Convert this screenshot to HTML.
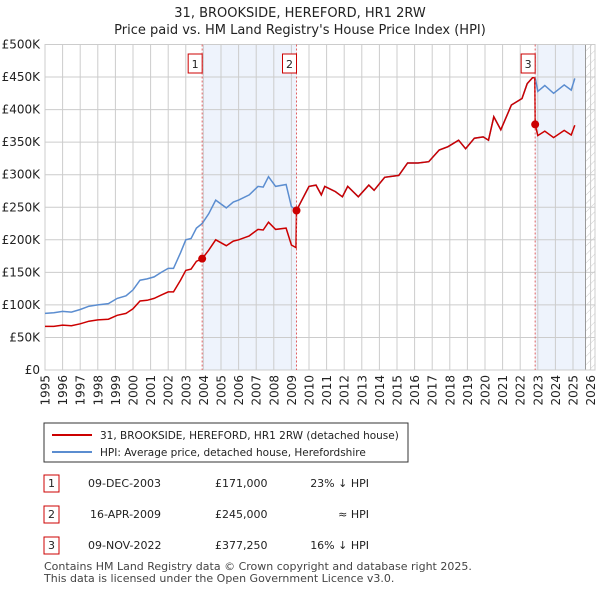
<!DOCTYPE html>
<html><head><meta charset="utf-8"><style>
body{margin:0;background:#fff;font-family:"Liberation Sans","DejaVu Sans",sans-serif;}
svg text{font-family:"DejaVu Sans","Liberation Sans",sans-serif;}
</style></head><body>
<svg id="chart" width="600" height="590" viewBox="0 0 600 590" xmlns="http://www.w3.org/2000/svg">
<defs><pattern id="hatch" width="6" height="6" patternUnits="userSpaceOnUse" patternTransform="rotate(45)"><line x1="0" y1="0" x2="0" y2="6" stroke="#ccc" stroke-width="1"/></pattern></defs>
<text x="300" y="17" font-size="13" text-anchor="middle" fill="#222">31, BROOKSIDE, HEREFORD, HR1 2RW</text>
<text x="300" y="34" font-size="13" text-anchor="middle" fill="#222">Price paid vs. HM Land Registry's House Price Index (HPI)</text>
<g id="bg"></g><g id="grid"></g><g id="series"></g><g id="marks"></g>
<g>
<rect x="44" y="423" width="364" height="39" fill="#fff" stroke="#333"/>
<line x1="52" y1="435" x2="92" y2="435" stroke="#cc0000" stroke-width="2"/>
<text x="100" y="439" font-size="10.5" fill="#222">31, BROOKSIDE, HEREFORD, HR1 2RW (detached house)</text>
<line x1="52" y1="452" x2="92" y2="452" stroke="#5b8dd0" stroke-width="2"/>
<text x="100" y="456" font-size="10.5" fill="#222">HPI: Average price, detached house, Herefordshire</text>
</g>
<g font-size="11" fill="#222">
<rect x="44" y="475" width="15" height="17" fill="#fff" stroke="#cc0000"/><text x="51.5" y="487" text-anchor="middle">1</text>
<text x="88" y="487">09-DEC-2003</text><text x="215" y="487">£171,000</text><text x="369" y="487" text-anchor="end">23% ↓ HPI</text>
<rect x="44" y="506" width="15" height="17" fill="#fff" stroke="#cc0000"/><text x="51.5" y="518" text-anchor="middle">2</text>
<text x="90" y="518">16-APR-2009</text><text x="215" y="518">£245,000</text><text x="369" y="518" text-anchor="end">≈ HPI</text>
<rect x="44" y="537" width="15" height="17" fill="#fff" stroke="#cc0000"/><text x="51.5" y="549" text-anchor="middle">3</text>
<text x="88" y="549">09-NOV-2022</text><text x="215" y="549">£377,250</text><text x="369" y="549" text-anchor="end">16% ↓ HPI</text>
</g>
<text x="44" y="570" font-size="11" fill="#444">Contains HM Land Registry data © Crown copyright and database right 2025.</text>
<text x="44" y="582" font-size="11" fill="#444">This data is licensed under the Open Government Licence v3.0.</text>
</svg>
<script>
const yearTicks=[1995,1996,1997,1998,1999,2000,2001,2002,2003,2004,2005,2006,2007,2008,2009,2010,2011,2012,2013,2014,2015,2016,2017,2018,2019,2020,2021,2022,2023,2024,2025,2026];
const valueTicks=[0,50,100,150,200,250,300,350,400,450,500];
const valueTickLabels=["£0","£50K","£100K","£150K","£200K","£250K","£300K","£350K","£400K","£450K","£500K"];
const hpiDates=[1995.0,1995.5,1996.0,1996.5,1997.0,1997.5,1998.0,1998.6,1999.1,1999.6,2000.0,2000.4,2000.8,2001.2,2001.6,2002.0,2002.3,2002.7,2003.0,2003.3,2003.6,2003.93,2004.3,2004.7,2005.3,2005.7,2006.0,2006.6,2007.1,2007.4,2007.7,2008.1,2008.7,2009.0,2009.29,2009.5,2010.0,2010.4,2010.7,2010.9,2011.5,2011.9,2012.2,2012.8,2013.4,2013.7,2014.3,2015.1,2015.6,2016.2,2016.8,2017.4,2017.9,2018.5,2018.9,2019.4,2019.9,2020.2,2020.5,2020.9,2021.5,2022.1,2022.4,2022.7,2022.85,2023.0,2023.4,2023.9,2024.5,2024.9,2025.1];
const hpiValues=[87,88,90,89,93,98,100,102,110,114,123,138,140,143,150,156,156,180,200,202,218,225,240,261,249,258,261,269,282,281,297,282,285,251,245,256,282,284,269,282,274,266,282,266,284,276,296,299,318,318,320,338,343,353,340,356,358,353,389,369,407,417,440,449,449,428,437,425,438,430,448];
const priceDates=[1995.0,1995.5,1996.0,1996.5,1997.0,1997.5,1998.0,1998.6,1999.1,1999.6,2000.0,2000.4,2000.8,2001.2,2001.6,2002.0,2002.3,2002.7,2003.0,2003.3,2003.6,2003.93,2004.3,2004.7,2005.3,2005.7,2006.0,2006.6,2007.1,2007.4,2007.7,2008.1,2008.7,2009.0,2009.26,2009.29,2009.5,2010.0,2010.4,2010.7,2010.9,2011.5,2011.9,2012.2,2012.8,2013.4,2013.7,2014.3,2015.1,2015.6,2016.2,2016.8,2017.4,2017.9,2018.5,2018.9,2019.4,2019.9,2020.2,2020.5,2020.9,2021.5,2022.1,2022.4,2022.7,2022.83,2022.85,2023.0,2023.4,2023.9,2024.5,2024.9,2025.1];
const priceValues=[67,67,69,68,71,75,77,78,84,87,94,106,107,110,115,120,120,138,153,155,167,171,184,200,191,198,200,206,216,215,227,216,218,192,188,245,256,282,284,269,282,274,266,282,266,284,276,296,299,318,318,320,338,343,353,340,356,358,353,389,369,407,417,440,449,449,377,360,367,357,368,361,376];
const saleDates=[2003.93,2009.29,2022.85];
const saleValues=[171,245,377.25];
const saleLabels=["1","2","3"];

const NS="http://www.w3.org/2000/svg";
const L=45,R=595,T=44.5,B=370;
const X=y=>L+(y-1995)*17.6;
const Y=v=>B-v*(B-T)/500;
function mk(tag,attrs,parent){const e=document.createElementNS(NS,tag);for(const k in attrs)e.setAttribute(k,attrs[k]);parent.appendChild(e);return e;}
const bg=document.getElementById('bg'),grid=document.getElementById('grid'),ser=document.getElementById('series'),marks=document.getElementById('marks');
let r=mk('rect',{x:X(saleDates[0]),y:T,width:X(saleDates[1])-X(saleDates[0]),height:B-T,fill:'#eef3fc'},bg);


r=mk('rect',{x:X(saleDates[2]),y:T,width:585.5-X(saleDates[2]),height:B-T,fill:'#eef3fc'},bg);


r=mk('rect',{x:585.5,y:T,width:R-585.5,height:B-T,fill:'url(#hatch)'},bg);


valueTicks.forEach((v,i)=>{
  mk('line',{x1:L,x2:R,y1:Y(v),y2:Y(v),stroke:'#cccccc','stroke-width':1},grid);
  const t=mk('text',{x:40,y:Y(v)+4,'font-size':12,'text-anchor':'end',fill:'#222'},grid);
  t.textContent=valueTickLabels[i];
  
  
});
yearTicks.forEach(y=>{
  mk('line',{x1:X(y),x2:X(y),y1:T,y2:B,stroke:'#cccccc','stroke-width':1},grid);
  const t=mk('text',{x:0,y:0,'font-size':12,'text-anchor':'end',fill:'#222',transform:`translate(${X(y)+4.5},375) rotate(-90)`},grid);
  t.textContent=y;
  
  
});
mk('line',{x1:585.5,x2:585.5,y1:T,y2:B,stroke:'#999','stroke-width':1},grid);
mk('rect',{x:L,y:T,width:R-L,height:B-T,fill:'none',stroke:'#cccccc'},grid);
const pts=(d,v)=>d.map((x,i)=>X(x).toFixed(1)+','+Y(v[i]).toFixed(1)).join(' ');
let p=mk('polyline',{points:pts(hpiDates,hpiValues),fill:'none',stroke:'#5b8dd0','stroke-width':1.5},ser);


p=mk('polyline',{points:pts(priceDates,priceValues),fill:'none',stroke:'#cc0000','stroke-width':1.5},ser);


saleDates.forEach((d,i)=>{
  const x=X(d);
  const l=mk('line',{x1:x,x2:x,y1:T,y2:B,stroke:'#e06060','stroke-width':1,'stroke-dasharray':'2,2'},marks);
  
  
  const c=mk('circle',{cx:x,cy:Y(saleValues[i]),r:4,fill:'#cc0000'},marks);
  
  
  const b=mk('rect',{x:x-14,y:54,width:14,height:19,fill:'#fff',stroke:'#cc0000'},marks);
  
  
  const t=mk('text',{x:x-7,y:68,'font-size':11,'text-anchor':'middle',fill:'#222'},marks);
  t.textContent=saleLabels[i];
  
  
});
</script>
</body></html>
